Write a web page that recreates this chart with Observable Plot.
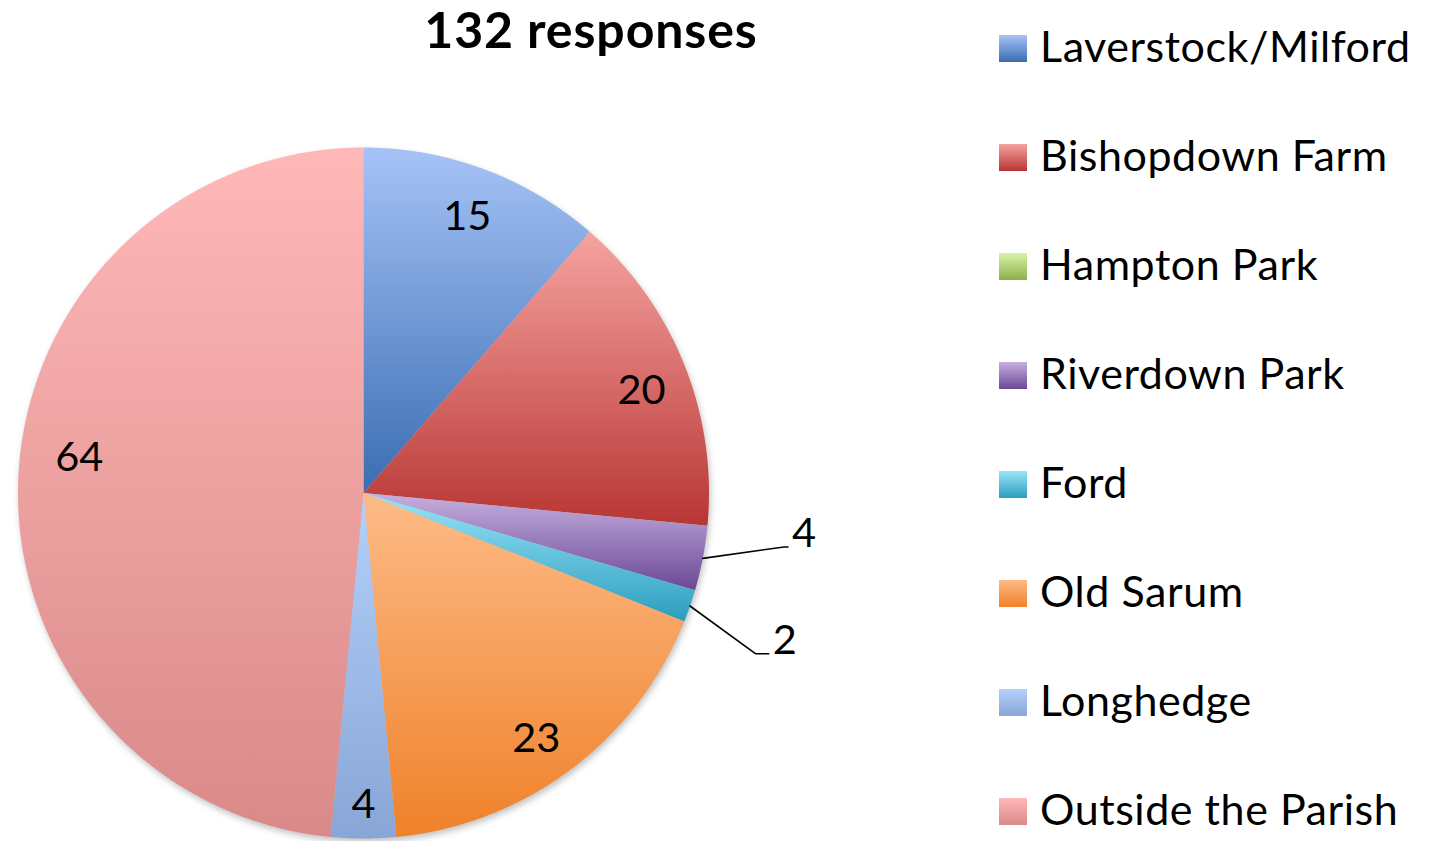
<!DOCTYPE html>
<html>
<head>
<meta charset="utf-8">
<script src="https://cdn.jsdelivr.net/npm/d3@7"></script>
<script src="https://cdn.jsdelivr.net/npm/@observablehq/plot@0.6"></script>
<style>
  html, body { margin: 0; padding: 0; background: #fff; }
  #wrap { position: relative; width: 1430px; height: 841px; overflow: hidden; font-family: Lato, "Open Sans", sans-serif; }
  #chart { position: absolute; left: 0; top: 0; }
  #title { position: absolute; top: 0px; left: 341px; width: 500px; text-align: center; font-weight: 700; font-size: 50px; line-height: 58px; letter-spacing: 0.9px; color: #000; }
  .leg-item { position: absolute; left: 999px; height: 60px; }
  .leg-swatch { position: absolute; left: 0; width: 28px; height: 27px; }
  .leg-text { position: absolute; left: 41px; white-space: nowrap; font-size: 43px; line-height: 43px; letter-spacing: 0.55px; color: #000; }
</style>
</head>
<body>
<div id="wrap">
  <div id="chart"></div>
  <div id="title"></div>
  <div id="legend"></div>
</div>
<script>
// ---- data ----
const title = "132 responses";
const categories = ["Laverstock/Milford", "Bishopdown Farm", "Hampton Park", "Riverdown Park", "Ford", "Old Sarum", "Longhedge", "Outside the Parish"];
const counts = [15, 20, 0, 4, 2, 23, 4, 64];

// ---- styles ----
const gradTop =    ["#a6c3f6", "#f6a3a1", "#d9f4a8", "#c6b0de", "#9ae5f9", "#fdbb88", "#b4d0fb", "#ffb8b8"];
const gradBottom = ["#3a6db3", "#b83633", "#8cb04b", "#6b4896", "#2c9dbf", "#ef8129", "#88a6d6", "#d98988"];
const shadowColor = "#9a9a9a";
const labelPlacement = ["inside", "inside", "none", "outside", "outside", "inside", "inside", "inside"];
const labelAngleShift = [0, 1.2, 0, 0, 0, 1.5, 0, 4.8];     // degrees, inside-label nudges
const labelRadius = [0.86, 0.86, 0, 0, 0, 0.865, 0.895, 0.83];
const elbowAngleShift = [0, 0, 0, -3.6, 3.2, 0, 0, 0];       // degrees, leader-line spread
const leaderTail = [0, 0, 0, 4, 13, 0, 0, 0];                // px, horizontal end of leader
const elbowRadius = 1.227;

// ---- layout ----
const cx = 363, cy = 492.5, R = 345.5;

const rows = categories.map((name, i) => ({name, count: counts[i], i}));
const arcs = d3.pie().sort(null).value(d => d.count)(rows);

function arcPoints(a0, a1) {
  const pts = [{x: 0, y: 0}];
  const n = Math.max(2, Math.ceil((a1 - a0) / 0.004));
  for (let k = 0; k <= n; k++) {
    const t = a0 + (a1 - a0) * k / n;
    pts.push({x: Math.sin(t), y: Math.cos(t)});
  }
  pts.push({x: 0, y: 0});
  return pts;
}

// shadow disc covering all slices
const first = arcs[0], last = arcs[arcs.length - 1];
const shadowMark = Plot.line(arcPoints(first.startAngle, last.endAngle), {x: "x", y: "y", fill: shadowColor, stroke: "none"});

// one mark per slice, each later filled with its own gradient
const sliceMarks = [];
for (const a of arcs) {
  if (a.endAngle - a.startAngle <= 0) continue;
  sliceMarks.push(Plot.line(arcPoints(a.startAngle, a.endAngle), {x: "x", y: "y", fill: gradBottom[a.data.i], stroke: "none"}));
}

const insideLabels = [];
const outsideLabels = [];
const leaderPts = [];
for (const a of arcs) {
  const i = a.data.i;
  const mid = (a.startAngle + a.endAngle) / 2;
  if (labelPlacement[i] === "inside") {
    const m = mid + labelAngleShift[i] * Math.PI / 180;
    insideLabels.push({x: labelRadius[i] * Math.sin(m), y: labelRadius[i] * Math.cos(m), text: String(a.data.count)});
  } else if (labelPlacement[i] === "outside") {
    const e = mid + elbowAngleShift[i] * Math.PI / 180;
    const ex = elbowRadius * Math.sin(e), ey = elbowRadius * Math.cos(e);
    const hx = ex + leaderTail[i] / R;
    leaderPts.push({x: Math.sin(mid), y: Math.cos(mid), name: a.data.name});
    leaderPts.push({x: ex, y: ey, name: a.data.name});
    leaderPts.push({x: hx, y: ey, name: a.data.name});
    outsideLabels.push({x: hx, y: ey, text: String(a.data.count)});
  }
}

const plot = Plot.plot({
  width: 1430,
  height: 841,
  margin: 0,
  x: {domain: [-1, 1], range: [cx - R, cx + R], axis: null},
  y: {domain: [-1, 1], range: [cy + R, cy - R], axis: null},
  style: {fontFamily: "Lato, 'Open Sans', sans-serif", background: "transparent", overflow: "visible"},
  marks: [
    shadowMark,
    ...sliceMarks,
    Plot.text(insideLabels, {x: "x", y: "y", text: "text", fontSize: 41.5, fill: "#000", textAnchor: "middle", dy: 2}),
    Plot.line(leaderPts, {x: "x", y: "y", z: "name", stroke: "#000", strokeWidth: 1.6}),
    Plot.text(outsideLabels, {x: "x", y: "y", text: "text", fontSize: 41.5, fill: "#000", textAnchor: "start", dx: 4, dy: -13})
  ]
});

// gradients
const ns = "http://www.w3.org/2000/svg";
const defs = document.createElementNS(ns, "defs");
categories.forEach((c, i) => {
  const lg = document.createElementNS(ns, "linearGradient");
  lg.setAttribute("id", `grad${i}`);
  lg.setAttribute("x1", "0"); lg.setAttribute("y1", "0");
  lg.setAttribute("x2", "0"); lg.setAttribute("y2", "1");
  const s0 = document.createElementNS(ns, "stop");
  s0.setAttribute("offset", "0"); s0.setAttribute("stop-color", gradTop[i]);
  const s1 = document.createElementNS(ns, "stop");
  s1.setAttribute("offset", "1"); s1.setAttribute("stop-color", gradBottom[i]);
  lg.appendChild(s0); lg.appendChild(s1);
  defs.appendChild(lg);
});
plot.insertBefore(defs, plot.firstChild);

// apply gradient fills (matched by the base colour) and soften the shadow
plot.querySelectorAll("path").forEach(p => {
  const holder = p.getAttribute("fill") ? p : p.parentNode;
  const f = (holder.getAttribute("fill") || "").toLowerCase();
  const idx = gradBottom.findIndex(c => c.toLowerCase() === f);
  if (idx >= 0) holder.setAttribute("fill", `url(#grad${idx}) ${gradBottom[idx]}`);
  else if (f === shadowColor) {
    holder.style.filter = "blur(3px)";
    holder.setAttribute("transform", "translate(2,4)");
    holder.setAttribute("opacity", "0.6");
  }
});
document.getElementById("chart").appendChild(plot);

// title
document.getElementById("title").textContent = title;

// legend
const legend = d3.select("#legend");
categories.forEach((c, i) => {
  const item = legend.append("div").attr("class", "leg-item").style("top", `${35 + 109 * i}px`);
  item.append("div").attr("class", "leg-swatch")
    .style("background", `linear-gradient(to bottom, ${gradTop[i]}, ${gradBottom[i]})`);
  item.append("div").attr("class", "leg-text").style("top", "-11px").text(c);
});
</script>
</body>
</html>
